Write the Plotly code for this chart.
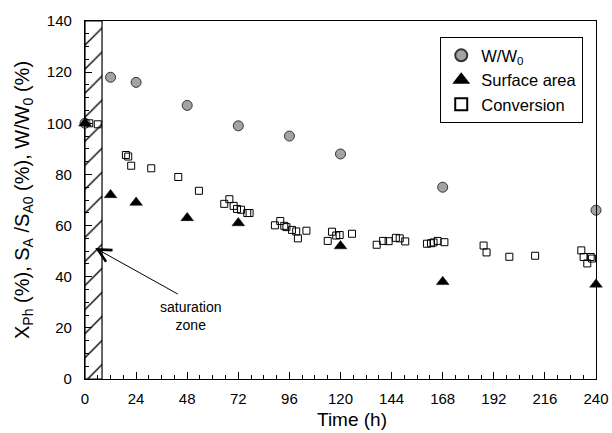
import plotly.graph_objects as go

# Relative sample weight W/W0 (%)
w_time = [0, 12, 24, 48, 72, 96, 120, 168, 240]
w_ratio = [100, 118, 116, 107, 99, 95, 88, 75, 66]

# Relative surface area SA/SA0 (%)
sa_time = [0, 12, 24, 48, 72, 120, 168, 240]
sa_ratio = [100, 72, 69, 63, 61, 52, 38, 37]

# Phenol conversion XPh (%)
conv_time = [2, 6, 19.2, 20.3, 21.7, 31.1, 43.8, 53.5, 65.4, 67.8, 69.8, 71.4,
             73.3, 76.2, 77.3, 89.2, 91.7, 93.6, 94.6, 97.2, 99.2, 100, 104,
             114, 116, 118, 119.6, 125.4, 137, 140, 142.6, 146, 147.8, 150.4,
             160.6, 162.5, 163.7, 165.6, 168.8, 187.2, 188.6, 199.3, 211.4,
             233.1, 234.2, 235.9, 237.5, 238.1, 240.2]
conv_value = [100, 99.6, 87.6, 87, 83.4, 82.4, 79, 73.6, 68.5, 70.3, 67.7, 66.5,
              66.2, 64.9, 64.9, 60.1, 61.8, 59.9, 59.4, 58.3, 57.7, 55, 58,
              54, 57.6, 56.1, 56.3, 56.8, 52.5, 54, 53.9, 55.2, 55, 53.8,
              52.9, 53.1, 53.4, 54, 53.5, 52.2, 49.5, 47.8, 48.2,
              50.3, 47.7, 45.2, 47.7, 47.1, 47.1]

# Saturation zone (time interval, h)
sat_start, sat_end = 0, 8
y_max = 140

# Arrow pointing into the saturation zone
label_pos = (49.5, 24.5)
arrow_tail = (44.3, 32.9)
arrow_head = (4.8, 51.2)

x_title = "Time (h)"
y_title = "X<sub>Ph</sub> (%), S<sub>A</sub> /S<sub>A0</sub> (%), W/W<sub>0</sub> (%)"

font_family = "Liberation Sans, Arial, sans-serif"

fig = go.Figure()

fig.add_trace(go.Bar(
    x=[(sat_start + sat_end) / 2], y=[y_max], base=0,
    width=[sat_end - sat_start],
    marker=dict(color="white", line=dict(color="black", width=1.2),
                pattern=dict(shape="/", fgcolor="black", bgcolor="white",
                             size=17, solidity=0.08)),
    showlegend=False, hoverinfo="skip",
))

fig.add_trace(go.Scatter(
    x=w_time, y=w_ratio, mode="markers", name="W/W<sub>0</sub>",
    marker=dict(symbol="circle", size=10, color="#a3a3a3",
                line=dict(color="#333333", width=1)),
    cliponaxis=False,
))

fig.add_trace(go.Scatter(
    x=sa_time, y=sa_ratio, mode="markers", name="Surface area",
    marker=dict(symbol="triangle-up", size=11, color="black",
                line=dict(color="black", width=0.5)),
    cliponaxis=False,
))

fig.add_trace(go.Scatter(
    x=conv_time, y=conv_value, mode="markers", name="Conversion",
    marker=dict(symbol="square-open", size=7, color="black",
                line=dict(color="black", width=1)),
    cliponaxis=False,
))

fig.add_annotation(
    x=arrow_head[0], y=arrow_head[1], ax=arrow_tail[0], ay=arrow_tail[1],
    xref="x", yref="y", axref="x", ayref="y",
    text="", showarrow=True, arrowhead=5, arrowsize=2.6, arrowwidth=1,
    arrowcolor="black",
)
fig.add_annotation(
    x=label_pos[0], y=label_pos[1], xref="x", yref="y",
    text="saturation<br>zone", showarrow=False,
    font=dict(family=font_family, size=14, color="black"),
)

# Axis titles
fig.add_annotation(
    x=0.522, y=0, xref="paper", yref="paper", xanchor="center", yanchor="middle",
    yshift=-40, text=x_title, showarrow=False,
    font=dict(family=font_family, size=19, color="black"),
)
fig.add_annotation(
    x=0, y=0.5, xref="paper", yref="paper", xanchor="center", yanchor="middle",
    xshift=-62, textangle=-90, text=y_title, showarrow=False,
    font=dict(family=font_family, size=20, color="black"),
)

axis_common = dict(
    showline=True, linecolor="black", linewidth=1.2, mirror=True,
    ticks="inside", ticklen=7, tickwidth=1, tickcolor="black",
    showgrid=False, zeroline=False, automargin=False,
    tickfont=dict(family=font_family, size=15, color="black"),
)

fig.update_xaxes(
    range=[0, 240], dtick=24, tick0=0,
    minor=dict(dtick=6, ticks="inside", ticklen=4, tickcolor="black"),
    ticklabelstandoff=6,
    **axis_common,
)
fig.update_yaxes(
    range=[0, y_max], dtick=20, tick0=0,
    minor=dict(dtick=5, ticks="inside", ticklen=4, tickcolor="black"),
    ticklabelstandoff=9,
    **axis_common,
)

fig.update_layout(
    template="none",
    width=612, height=433,
    margin=dict(l=85, r=16, t=21, b=54),
    plot_bgcolor="white", paper_bgcolor="white",
    barmode="overlay",
    legend=dict(
        x=0.975, y=0.955, xanchor="right", yanchor="top",
        bordercolor="black", borderwidth=1, bgcolor="white",
        font=dict(family=font_family, size=16.5, color="black"),
        tracegroupgap=0, itemsizing="constant",
    ),
    font=dict(family=font_family, color="black"),
)

fig.write_html("out.html")
